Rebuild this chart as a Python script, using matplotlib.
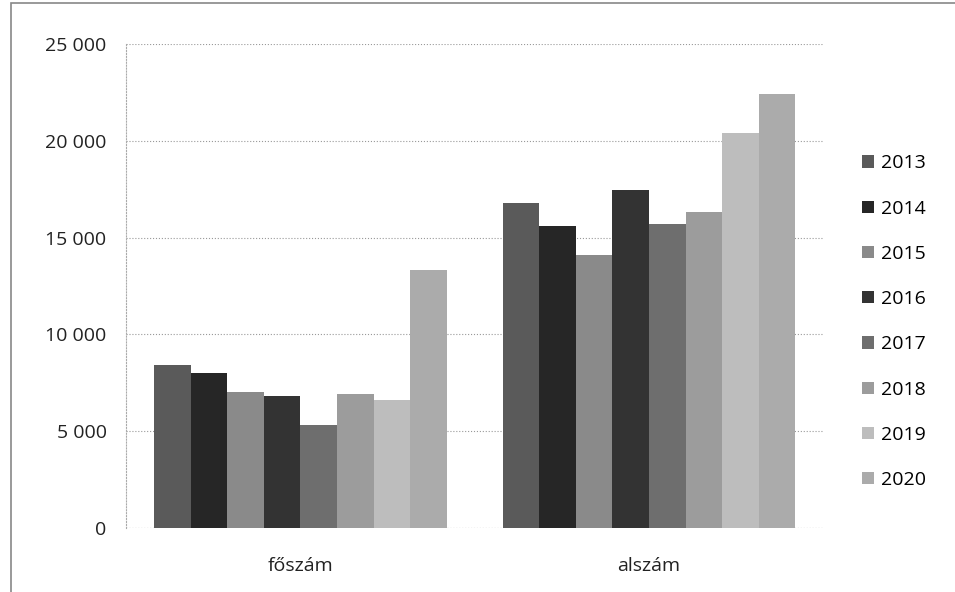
import numpy as np
import matplotlib.pyplot as plt
from matplotlib.ticker import FuncFormatter
from matplotlib.patches import Rectangle

categories = ['főszám', 'alszám']
years = ['2013', '2014', '2015', '2016', '2017', '2018', '2019', '2020']
foszam = [8400, 8000, 7000, 6800, 5300, 6900, 6600, 13300]
alszam = [16800, 15600, 14100, 17450, 15700, 16300, 20400, 22400]
colors = ['#5a5a5a', '#262626', '#8a8a8a', '#333333', '#6e6e6e', '#9c9c9c', '#bdbdbd', '#ababab']

plt.rcParams['font.family'] = ['Open Sans', 'DejaVu Sans']

fig = plt.figure(figsize=(9.55, 5.92), dpi=100)
ax = fig.add_axes([0.132, 0.108, 0.73, 0.818])

# keret
fig.patches.append(Rectangle((0.011, -0.01), 1.0, 1.005, transform=fig.transFigure,
                             fill=False, edgecolor='#888888', lw=1.2))

x = np.arange(len(categories))
w = 0.105
for i, y in enumerate(years):
    vals = [foszam[i], alszam[i]]
    ax.bar(x + (i - 3.5) * w, vals, width=w, color=colors[i], label=y, zorder=2)

ax.set_xlim(-0.5, 1.5)
ax.set_ylim(0, 25000)
ax.set_yticks(range(0, 25001, 5000))
ax.yaxis.set_major_formatter(FuncFormatter(lambda v, p: f'{int(v):,}'.replace(',', ' ')))
ax.set_xticks(x)
ax.set_xticklabels(categories)
ax.tick_params(axis='both', labelsize=14, colors='#222222', length=0)
ax.tick_params(axis='x', pad=21)
ax.tick_params(axis='y', pad=14)
ax.grid(axis='y', linestyle=':', color='#999999', lw=0.8, zorder=0)
for s in ['top', 'right', 'bottom']:
    ax.spines[s].set_visible(False)
ax.spines['left'].set_color('#aaaaaa')
ax.spines['left'].set_linestyle(':')
ax.axhline(0, color='#aaaaaa', lw=0.8, ls=':', zorder=1)

ax.legend(loc='center left', bbox_to_anchor=(1.045, 0.426), frameon=False, fontsize=14,
          handlelength=0.6, handleheight=0.6, handletextpad=0.35, labelspacing=1.4,
          borderaxespad=0)

plt.savefig('out.png', dpi=100)
